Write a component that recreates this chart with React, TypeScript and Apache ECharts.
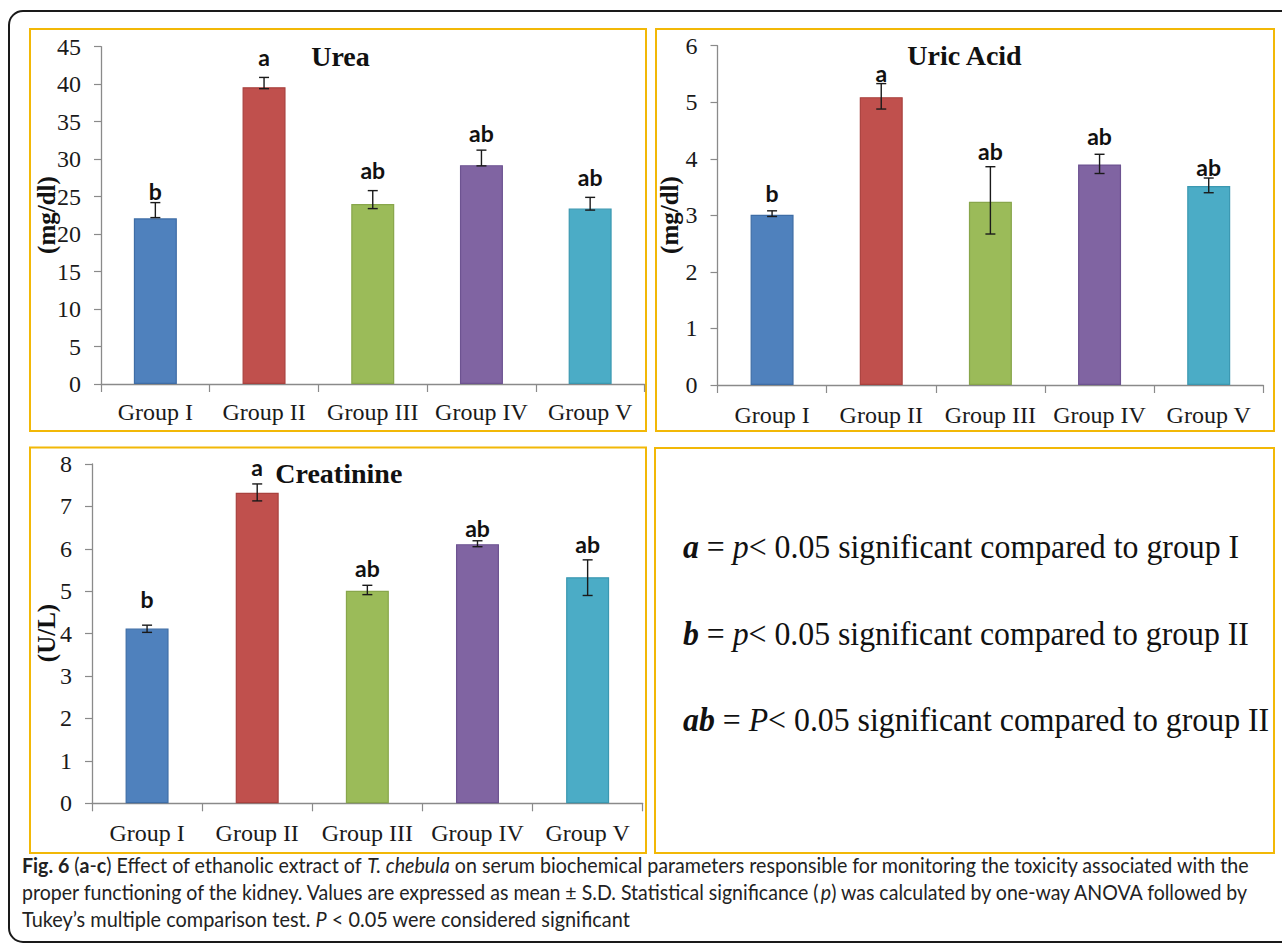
import React, { useEffect, useRef } from "react";
import * as echarts from "echarts";

// ---------- data ----------
const groups = ["Group I", "Group II", "Group III", "Group IV", "Group V"];
const barColors = ["#4F81BD", "#C0504D", "#9BBB59", "#8064A2", "#4BACC6"];
const barBorders = ["#3E6DA6", "#A9413E", "#88A64B", "#6D5391", "#3B98B1"];

const ureaMean = [22.1, 39.6, 24.0, 29.2, 23.4];
const ureaLow = [22.2, 39.4, 23.4, 29.1, 23.2];
const ureaHigh = [24.2, 40.9, 25.8, 31.2, 24.9];
const ureaSig = ["b", "a", "ab", "ab", "ab"];
const ureaSigAt = [25.8, 43.6, 28.5, 33.5, 27.6];

const uricMean = [3.01, 5.09, 3.24, 3.9, 3.52];
const uricLow = [2.98, 4.88, 2.67, 3.74, 3.4];
const uricHigh = [3.08, 5.33, 3.86, 4.08, 3.66];
const uricSig = ["b", "a", "ab", "ab", "ab"];
const uricSigAt = [3.4, 5.52, 4.13, 4.4, 3.86];

const creatMean = [4.12, 7.32, 5.01, 6.11, 5.33];
const creatLow = [4.03, 7.13, 4.92, 6.05, 4.9];
const creatHigh = [4.2, 7.53, 5.14, 6.19, 5.74];
const creatSig = ["b", "a", "ab", "ab", "ab"];
const creatSigAt = [4.81, 7.93, 5.54, 6.5, 6.11];

const titles = ["Urea", "Uric Acid", "Creatinine"];
const yNames = ["(mg/dl)", "(mg/dl)", "(U/L)"];
const yMax = [45, 6, 8];
const yInterval = [5, 1, 1];

type Seg = { t: string; w?: string; s?: string };

const legendLines: Seg[][] = [
  [{ t: "a", w: "bold", s: "italic" }, { t: " = " }, { t: "p", s: "italic" }, { t: "< 0.05 significant compared to group I" }],
  [{ t: "b", w: "bold", s: "italic" }, { t: " = " }, { t: "p", s: "italic" }, { t: "< 0.05 significant compared to group II" }],
  [{ t: "ab", w: "bold", s: "italic" }, { t: " = " }, { t: "P", s: "italic" }, { t: "< 0.05 significant compared to group II" }],
];

const captionLines: Seg[][] = [
  [
    { t: "Fig. 6", w: "bold" },
    { t: " (" },
    { t: "a", w: "bold" },
    { t: "-" },
    { t: "c", w: "bold" },
    { t: ") Effect of ethanolic extract of " },
    { t: "T. chebula", s: "italic" },
    { t: " on serum biochemical parameters responsible for monitoring the toxicity associated with the" },
  ],
  [
    { t: "proper functioning of the kidney. Values are expressed as mean ± S.D. Statistical significance (" },
    { t: "p", s: "italic" },
    { t: ") was calculated by one-way ANOVA followed by" },
  ],
  [{ t: "Tukey’s multiple comparison test. " }, { t: "P", s: "italic" }, { t: " < 0.05 were considered significant" }],
];

// ---------- helpers ----------
function measure(segs: Seg[], size: number, fam: string): number {
  const ctx = document.createElement("canvas").getContext("2d");
  if (!ctx) return 1;
  let total = 0;
  for (const sg of segs) {
    ctx.font = `${sg.s || "normal"} ${sg.w || "normal"} ${size}px ${fam}`;
    total += ctx.measureText(sg.t).width;
  }
  return total;
}

function richText(segs: Seg[], size: number, fam: string, color: string, x: number, y: number, targetW: number) {
  const rich: any = {};
  let text = "";
  segs.forEach((sg) => {
    const key = (sg.s === "italic" ? "i" : "n") + (sg.w === "bold" ? "b" : "n");
    rich[key] = {
      fontSize: size,
      fontFamily: fam,
      fontWeight: sg.w || "normal",
      fontStyle: sg.s || "normal",
      fill: color,
      color: color,
    };
    text += `{${key}|${sg.t}}`;
  });
  const w = measure(segs, size, fam);
  const sx = w > 0 ? targetW / w : 1;
  return {
    type: "text",
    x,
    y,
    scaleX: sx,
    style: {
      text,
      rich,
      fontSize: size,
      fontFamily: fam,
      fill: color,
      textVerticalAlign: "middle",
      verticalAlign: "middle",
    },
  };
}

const grids = [
  { left: 101, top: 46.7, width: 543.5, height: 337.3 },
  { left: 717.5, top: 45.7, width: 545.8, height: 339.3 },
  { left: 92, top: 464, width: 550.7, height: 339.3 },
];
const labelMargins = [16, 18, 18];

const axisColor = "#8a8a8a";
const textColor = "#1a1a1a";
const serif = "'Liberation Serif', 'Times New Roman', serif";

export default function App() {
  const ref = useRef<HTMLDivElement>(null);

  useEffect(() => {
    if (!ref.current) return;
    const chart = echarts.init(ref.current, null, { renderer: "svg" });

    const means = [ureaMean, uricMean, creatMean];
    const lows = [ureaLow, uricLow, creatLow];
    const highs = [ureaHigh, uricHigh, creatHigh];
    const sigs = [ureaSig, uricSig, creatSig];
    const sigAts = [ureaSigAt, uricSigAt, creatSigAt];

    const xAxis = grids.map((_, gi) => ({
      type: "category",
      gridIndex: gi,
      data: groups,
      boundaryGap: true,
      axisLine: { show: true, lineStyle: { color: axisColor, width: 1.3 } },
      axisTick: { show: true, length: 8, interval: 0, lineStyle: { color: axisColor, width: 1.2 } },
      axisLabel: { interval: 0, margin: labelMargins[gi], fontFamily: serif, fontSize: 24, color: textColor },
      splitLine: { show: false },
    }));

    const yAxis = grids.map((_, gi) => ({
      type: "value",
      gridIndex: gi,
      min: 0,
      max: yMax[gi],
      interval: yInterval[gi],
      axisLine: { show: true, lineStyle: { color: axisColor, width: 1.3 } },
      axisTick: { show: true, length: 7, lineStyle: { color: axisColor, width: 1.2 } },
      axisLabel: { margin: 20, fontFamily: serif, fontSize: 24, color: textColor },
      splitLine: { show: false },
    }));

    const series: any[] = [];
    grids.forEach((_, gi) => {
      series.push({
        type: "bar",
        xAxisIndex: gi,
        yAxisIndex: gi,
        barWidth: 43,
        data: means[gi].map((v, i) => ({
          value: v,
          itemStyle: { color: barColors[i], borderColor: barBorders[i], borderWidth: 1.2 },
        })),
        z: 2,
      });
      series.push({
        type: "custom",
        xAxisIndex: gi,
        yAxisIndex: gi,
        z: 4,
        encode: { x: 0, y: [1, 2] },
        data: groups.map((_, i) => [i, lows[gi][i], highs[gi][i]]),
        renderItem: (params: any, api: any) => {
          const i = api.value(0);
          const lo = api.coord([i, api.value(1)]);
          const hi = api.coord([i, api.value(2)]);
          const w = 5;
          const st = { stroke: "#1a1a1a", lineWidth: 1.4 };
          return {
            type: "group",
            children: [
              { type: "line", shape: { x1: lo[0], y1: lo[1], x2: hi[0], y2: hi[1] }, style: st },
              { type: "line", shape: { x1: hi[0] - w, y1: hi[1], x2: hi[0] + w, y2: hi[1] }, style: st },
              { type: "line", shape: { x1: lo[0] - w, y1: lo[1], x2: lo[0] + w, y2: lo[1] }, style: st },
            ],
          };
        },
      });
      const sg = sigs[gi];
      series.push({
        type: "custom",
        xAxisIndex: gi,
        yAxisIndex: gi,
        z: 5,
        encode: { x: 0, y: 1 },
        data: groups.map((_, i) => [i, sigAts[gi][i]]),
        renderItem: (params: any, api: any) => {
          const p = api.coord([api.value(0), api.value(1)]);
          return {
            type: "text",
            x: p[0],
            y: p[1],
            style: {
              text: sg[params.dataIndex],
              fontFamily: "Lato, 'Noto Sans', sans-serif",
              fontWeight: "bold",
              fontSize: 23,
              fill: "#111",
              textAlign: "center",
              textVerticalAlign: "middle",
            },
          };
        },
      });
    });

    const titlePos = [
      [340.5, 56.7],
      [964.5, 55],
      [338.8, 473],
    ];
    const yNamePos = [
      [46.5, 215],
      [669, 215],
      [46, 633],
    ];

    const graphic: any[] = [
      {
        type: "rect",
        shape: { x: 9, y: 11, width: 1300, height: 931, r: 14 },
        style: { fill: "none", stroke: "#1a1a1a", lineWidth: 2 },
        z: 1,
      },
      { type: "rect", shape: { x: 30, y: 29, width: 616, height: 402 }, style: { fill: "none", stroke: "#F2B807", lineWidth: 2 } },
      { type: "rect", shape: { x: 656, y: 29, width: 618, height: 402 }, style: { fill: "none", stroke: "#F2B807", lineWidth: 2 } },
      { type: "rect", shape: { x: 30, y: 447.5, width: 616, height: 405.5 }, style: { fill: "none", stroke: "#F2B807", lineWidth: 2 } },
      { type: "rect", shape: { x: 655, y: 448, width: 619, height: 405 }, style: { fill: "none", stroke: "#F2B807", lineWidth: 2 } },
    ];

    titles.forEach((t, i) => {
      graphic.push({
        type: "text",
        x: titlePos[i][0],
        y: titlePos[i][1],
        style: {
          text: t,
          fontFamily: serif,
          fontWeight: "bold",
          fontSize: 28,
          fill: "#111",
          textAlign: "center",
          textVerticalAlign: "middle",
        },
      });
    });

    yNames.forEach((t, i) => {
      graphic.push({
        type: "text",
        x: yNamePos[i][0],
        y: yNamePos[i][1],
        rotation: Math.PI / 2,
        style: {
          text: t,
          fontFamily: serif,
          fontWeight: "bold",
          fontSize: 25,
          fill: "#111",
          textAlign: "center",
          textVerticalAlign: "middle",
        },
      });
    });

    const legendY = [546.7, 633.3, 720];
    const legendW = [556, 566, 586];
    legendLines.forEach((segs, i) => {
      graphic.push(richText(segs, 33, serif, "#111", 683, legendY[i], legendW[i]));
    });

    const capY = [865, 892, 919];
    const capW = [1228, 1228, 608];
    captionLines.forEach((segs, i) => {
      graphic.push(richText(segs, 21, "Lato, 'Noto Sans', sans-serif", "#222", 22, capY[i], capW[i]));
    });

    chart.setOption({
      animation: false,
      backgroundColor: "#ffffff",
      grid: grids.map((g) => ({ ...g, containLabel: false })),
      xAxis,
      yAxis,
      series,
      graphic,
    });

    return () => chart.dispose();
  }, []);

  return (
    <div
      ref={ref}
      style={{ position: "fixed", left: 0, top: 0, width: 1282, height: 951, background: "#fff" }}
    />
  );
}
